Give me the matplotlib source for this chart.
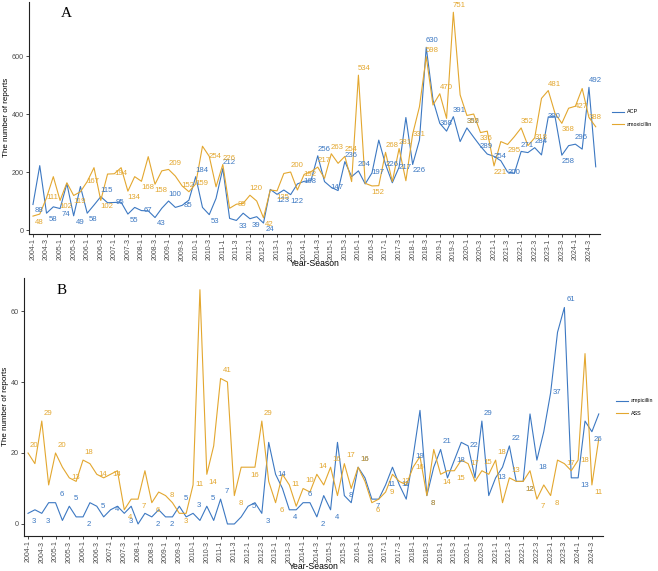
import matplotlib
matplotlib.use("Agg")
import matplotlib.pyplot as plt
import numpy as np

years = list(range(2004, 2025))
quarters = [1, 2, 3, 4]
categories = [f"{y}-{q}" for y in years for q in quarters]

acp = [88, 222, 58, 80, 74, 160, 49, 150, 58, 86, 115, 94, 95, 96, 55, 78, 67, 66, 43, 75,
       100, 78, 85, 103, 184, 78, 53, 109, 212, 40, 33, 58, 39, 46, 24, 140, 123, 138, 122, 159,
       168, 170, 256, 167, 147, 136, 236, 184, 204, 159, 197, 310, 226, 163, 217, 388, 226, 310, 630, 448,
       368, 341, 391, 305, 352, 320, 289, 262, 254, 239, 200, 196, 271, 267, 284, 259, 390, 391, 258, 291,
       296, 279, 492, 218]
amoxicillin = [48, 55, 111, 184, 102, 163, 119, 132, 167, 215, 102, 193, 194, 215, 134, 184, 168, 253, 158, 204,
               209, 186, 152, 132, 159, 289, 254, 149, 226, 75, 89, 92, 120, 100, 42, 138, 135, 195, 200, 138,
               192, 201, 217, 178, 263, 230, 254, 167, 534, 161, 152, 153, 268, 167, 281, 170, 331, 425, 598, 431,
               470, 385, 751, 466, 395, 400, 336, 341, 221, 305, 295, 322, 352, 291, 318, 454, 481, 402, 368, 420,
               427, 488, 388, 356]
ampicillin = [3, 4, 3, 6, 6, 1, 5, 2, 2, 6, 5, 2, 4, 5, 3, 5, 0, 3, 2, 4,
              2, 2, 5, 2, 3, 1, 5, 1, 7, 0, 0, 2, 5, 6, 3, 23, 14, 10, 4, 4,
              6, 6, 2, 8, 4, 23, 8, 6, 16, 13, 7, 7, 11, 16, 11, 7, 19, 32, 8, 16,
              21, 13, 18, 23, 22, 13, 29, 8, 13, 16, 22, 12, 12, 31, 18, 26, 37, 54, 61, 13,
              13, 29, 26, 31]
ass = [20, 17, 29, 11, 20, 16, 13, 12, 18, 17, 14, 13, 14, 15, 4, 7, 7, 15, 6, 9,
       8, 6, 3, 3, 11, 66, 14, 22, 41, 40, 8, 16, 16, 16, 29, 12, 6, 14, 11, 5,
       10, 9, 14, 11, 16, 8, 17, 10, 16, 12, 6, 7, 9, 14, 12, 11, 16, 19, 8, 21,
       14, 15, 15, 18, 17, 12, 15, 14, 18, 6, 13, 12, 12, 15, 7, 11, 8, 18, 17, 15,
       18, 48, 11, 24]

BLUE = "#3C78C2"
ORANGE = "#E3A72F"

plt.rcParams['font.family'] = ['Liberation Sans', 'DejaVu Sans']

W, H = 658, 571
fig = plt.figure(figsize=(W / 100, H / 100), dpi=100)
axA = fig.add_axes([28.9 / W, 1 - 233.6 / H, 570.9 / W, 231.9 / H])
axB = fig.add_axes([23.9 / W, 1 - 535.7 / H, 579.0 / W, 257.7 / H])


def draw(ax, s1, s2, n1, n2, ylim, yticks, letter, dy, ylab_x, xlab_y, leg_xy):
    x = np.arange(len(categories))
    ax.plot(x, s1, color=BLUE, lw=0.8, label=n1)
    ax.plot(x, s2, color=ORANGE, lw=0.8, label=n2)
    for s, c in ((s1, BLUE), (s2, ORANGE)):
        for i in range(0, len(x), 2):
            if s[i] == 0:
                continue
            prev = s[i - 1] if i > 0 else s[i]
            nxt = s[i + 1] if i < len(s) - 1 else s[i]
            off = 0
            if s[i] <= prev and s[i] <= nxt:
                off = -dy
            elif s[i] >= prev and s[i] >= nxt:
                off = dy
            ax.text(x[i] + 0.9, s[i] + off, str(s[i]), color=c, fontsize=5.6,
                    ha='center', va='center')
    ax.set_xlim(-0.6, len(x) - 1 + 0.6)
    ax.set_ylim(*ylim)
    ax.set_yticks(yticks)
    ax.set_xticks(x[::2])
    ax.set_xticklabels(categories[::2], rotation=90, fontsize=5, color='#4D4D4D')
    ax.tick_params(axis='y', labelsize=5.2, labelcolor='#4D4D4D', length=2, width=0.5, pad=1.5)
    ax.tick_params(axis='x', length=2, width=0.5, pad=1.5)
    for sp in ('top', 'right'):
        ax.spines[sp].set_visible(False)
    for sp in ('left', 'bottom'):
        ax.spines[sp].set_linewidth(0.8)
        ax.spines[sp].set_color('#222222')
    ax.set_ylabel("The number of reports", fontsize=5.8)
    ax.yaxis.set_label_coords(ylab_x, 0.5)
    ax.set_xlabel("Year-Season", fontsize=6.2)
    ax.xaxis.set_label_coords(0.5, xlab_y)
    ax.text(0.065, 0.95, letter, transform=ax.transAxes, fontsize=11,
            family='Liberation Serif', ha='center', va='center')
    ax.legend(loc='center left', bbox_to_anchor=leg_xy, bbox_transform=fig.transFigure,
              frameon=False, fontsize=3.9, handlelength=2.2, handletextpad=0.6,
              labelspacing=1.3, borderaxespad=0, borderpad=0)


draw(axA, acp, amoxicillin, "ACP", "amoxicillin", (-12.35, 787.35), [0, 200, 400, 600],
     "A", 22, -0.033, -0.11, (612 / W, 1 - 118 / H))
draw(axB, ampicillin, ass, "ampicillin", "ASS", (-3.3, 69.3), [0, 20, 40, 60],
     "B", 2.2, -0.025, -0.102, (616 / W, 1 - 407 / H))

fig.savefig("out.png", dpi=100)
